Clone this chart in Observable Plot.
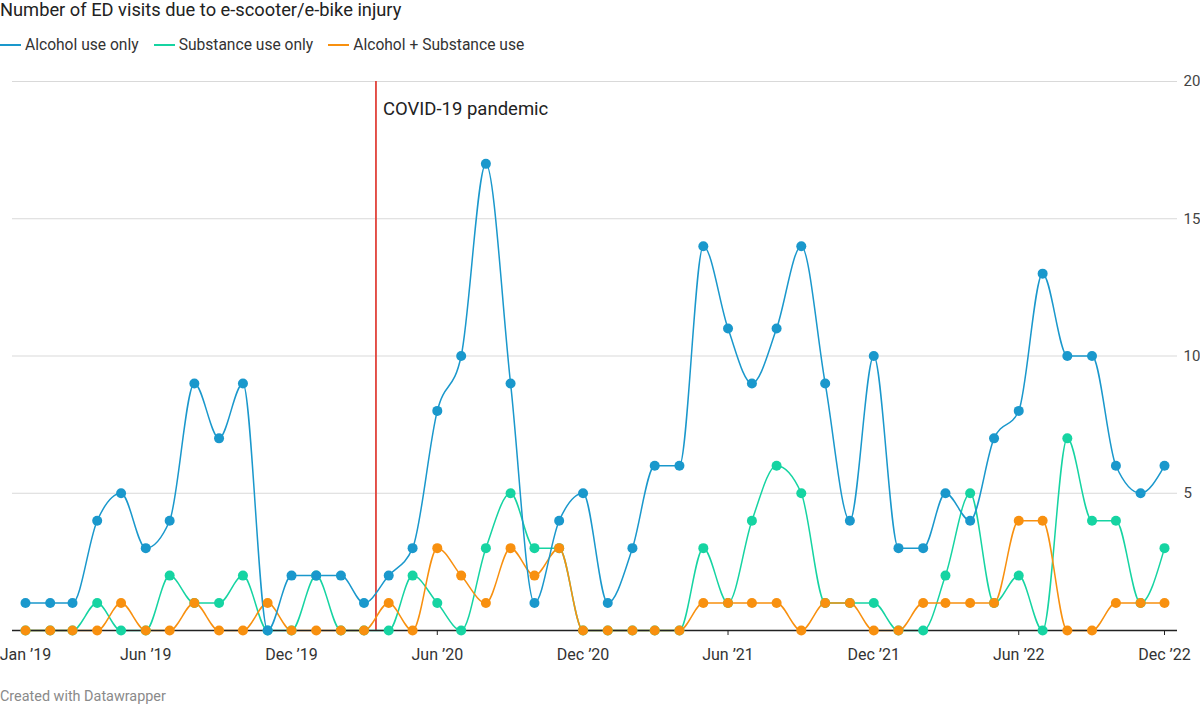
<!DOCTYPE html>
<html><head><meta charset="utf-8">
<script src="https://cdn.jsdelivr.net/npm/d3@7"></script>
<script src="https://cdn.jsdelivr.net/npm/@observablehq/plot@0.6"></script>
<style>
body{margin:0;background:#fff;font-family:Roboto,sans-serif;width:1200px;height:705px;position:relative;overflow:hidden}
#title{position:absolute;left:0;top:0;font-size:18.3px;line-height:20px;color:#222}
#legend{position:absolute;left:0;top:35px;display:flex;gap:15px;font-size:15.6px;line-height:20px;color:#333}
.item{display:flex;align-items:center}
.sw{display:inline-block;width:21px;height:1.5px;margin-right:4px}
#chart{position:absolute;left:0;top:60px}
#footer{position:absolute;left:0;top:688px;font-size:14.4px;color:#8a8a8a;line-height:18px}
</style>
</head><body>
<div id="title">Number of ED visits due to e-scooter/e-bike injury</div>
<div id="legend"></div>
<div id="chart"></div>
<div id="footer">Created with Datawrapper</div>
<script>
const months = [
 "2019-01","2019-02","2019-03","2019-04","2019-05","2019-06","2019-07","2019-08","2019-09","2019-10","2019-11","2019-12",
 "2020-01","2020-02","2020-03","2020-04","2020-05","2020-06","2020-07","2020-08","2020-09","2020-10","2020-11","2020-12",
 "2021-01","2021-02","2021-03","2021-04","2021-05","2021-06","2021-07","2021-08","2021-09","2021-10","2021-11","2021-12",
 "2022-01","2022-02","2022-03","2022-04","2022-05","2022-06","2022-07","2022-08","2022-09","2022-10","2022-11","2022-12"];
const alcoholOnly   = [1,1,1,4,5,3,4,9,7,9,0,2, 2,2,1,2,3,8,10,17,9,1,4,5, 1,3,6,6,14,11,9,11,14,9,4,10, 3,3,5,4,7,8,13,10,10,6,5,6];
const substanceOnly = [0,0,0,1,0,0,2,1,1,2,0,0, 2,0,0,0,2,1,0,3,5,3,3,0, 0,0,0,0,3,1,4,6,5,1,1,1, 0,0,2,5,1,2,0,7,4,4,1,3];
const alcoholSubst  = [0,0,0,0,1,0,0,1,0,0,1,0, 0,0,0,1,0,3,2,1,3,2,3,0, 0,0,0,0,1,1,1,1,0,1,1,0, 0,1,1,1,1,4,4,0,0,1,1,1];
const seriesNames = ["Alcohol use only","Substance use only","Alcohol + Substance use"];
const seriesColors = ["#1a98cc","#16d4a2","#f8900f"];
const yTicks = [0,5,10,15,20];
const labeledTicks = ["2019-01","2019-06","2019-12","2020-06","2020-12","2021-06","2021-12","2022-06","2022-12"];
const minorTicks = ["2020-01","2021-01","2022-01"];
const covidDate = "2020-03-16";
const covidLabel = "COVID-19 pandemic";

const toDate = s => new Date(s.length === 7 ? s + "-01T00:00:00Z" : s + "T00:00:00Z");
const values = [alcoholOnly, substanceOnly, alcoholSubst];
const rowsFor = i => months.map((m, k) => ({date: toDate(m), value: values[i][k], series: seriesNames[i]}));

// legend
const leg = document.getElementById("legend");
seriesNames.forEach((n, i) => {
  const it = document.createElement("div"); it.className = "item";
  const sw = document.createElement("span"); sw.className = "sw"; sw.style.background = seriesColors[i];
  it.appendChild(sw); it.appendChild(document.createTextNode(n)); leg.appendChild(it);
});

const drawOrder = [1, 2, 0];
const fmt = d3.utcFormat("%b \u2019%y");
const marks = [
  Plot.ruleY(yTicks.filter(d => d > 0), {stroke: "#d9d9d9", strokeWidth: 1, insetLeft: -13, insetRight: -13}),
  Plot.axisY({anchor: "right", ticks: yTicks.filter(d => d > 0), tickSize: 0, tickPadding: 19, label: null, fontSize: 15, color: "#444"}),
  Plot.ruleX([toDate(covidDate)], {y1: 0, y2: 20, stroke: "#e1423a", strokeWidth: 1.8}),
  Plot.text([covidLabel], {x: toDate(covidDate), y: 20, text: d => d, dx: 7, dy: 28, textAnchor: "start", fontSize: 18.5, fill: "#222"})
];
drawOrder.forEach(i => {
  marks.push(Plot.line(rowsFor(i), {x: "date", y: "value", stroke: seriesColors[i], strokeWidth: 1.5, curve: "monotone-x"}));
});
marks.push(Plot.ruleY([0], {stroke: "#222", strokeWidth: 1.5, insetLeft: -13, insetRight: -13}));
marks.push(Plot.axisX({ticks: labeledTicks.map(toDate), tickFormat: fmt, tickSize: 5, tickPadding: 13, label: null, fontSize: 16, color: "#333", stroke: "#222"}));
marks.push(Plot.axisX({ticks: minorTicks.map(toDate), tickFormat: () => "", tickSize: 5, label: null, stroke: "#222"}));
drawOrder.forEach(i => {
  marks.push(Plot.dot(rowsFor(i), {x: "date", y: "value", fill: seriesColors[i], r: 5, stroke: null}));
});

const chart = Plot.plot({
  width: 1200, height: 620,
  marginLeft: 25, marginRight: 36, marginTop: 21, marginBottom: 50,
  x: {type: "utc", domain: [toDate(months[0]), toDate(months[months.length - 1])]},
  y: {domain: [0, 20]},
  style: {fontFamily: "Roboto, sans-serif", fontSize: "15px", background: "transparent", color: "#333"},
  marks
});
document.getElementById("chart").appendChild(chart);
</script>
</body></html>
